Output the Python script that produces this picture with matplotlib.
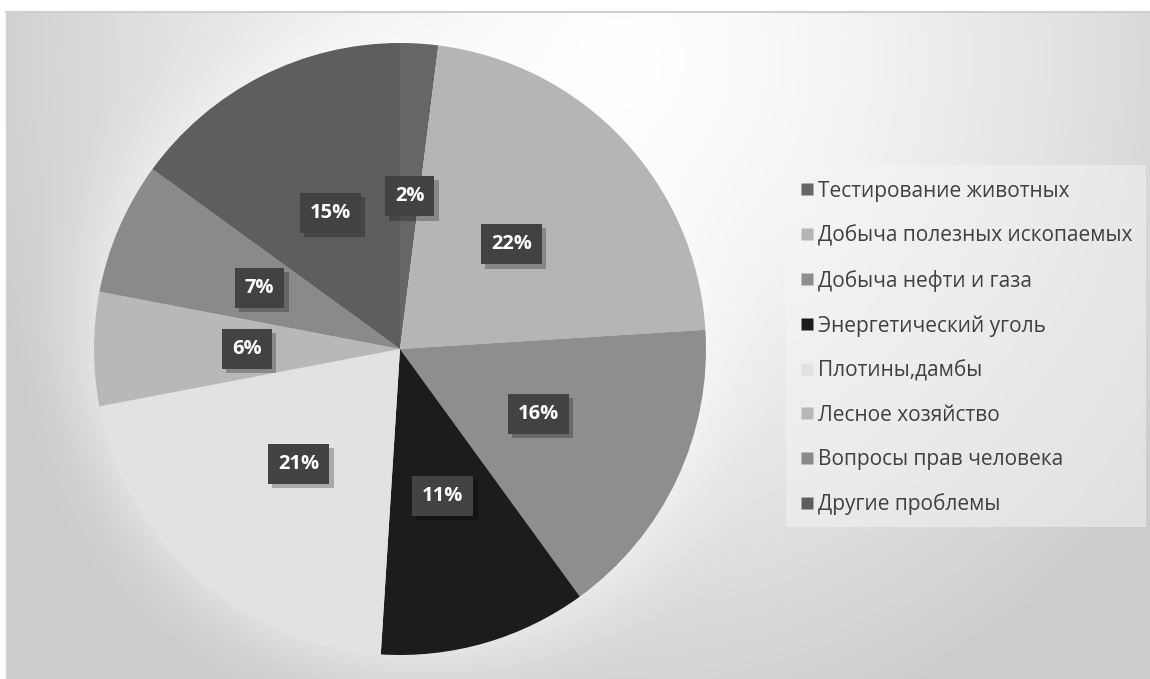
import numpy as np
import matplotlib
matplotlib.use("Agg")
import matplotlib.pyplot as plt
from matplotlib.lines import Line2D
import matplotlib.patheffects as pe

categories = ["Тестирование животных", "Добыча полезных ископаемых", "Добыча нефти и газа",
              "Энергетический уголь", "Плотины,дамбы", "Лесное хозяйство",
              "Вопросы прав человека", "Другие проблемы"]
values = [2, 22, 16, 11, 21, 6, 7, 15]
colors = ["#666666", "#b5b5b5", "#8e8e8e", "#1c1c1c", "#e2e2e2", "#b8b8b8", "#8a8a8a", "#5e5e5e"]

W, H = 1150, 679
fig = plt.figure(figsize=(W / 100, H / 100), dpi=100)
ax = fig.add_axes([0, 0, 1, 1])

# background gradient (row 0 = top)
yy, xx = np.mgrid[0:H, 0:W]
d = np.sqrt(((xx - 620) / 640.0) ** 2 + ((yy - 60) / 680.0) ** 2)
val = 1.0 - 0.19 * np.clip(d, 0, 1.3) ** 1.4
val = np.clip(val, 0.8, 1.0)
# soft halo around pie
dp = np.sqrt((xx - 400) ** 2 + (yy - 349) ** 2)
halo = np.clip(1 - (dp - 306) / 90.0, 0, 1) ** 2
val = val + (1 - val) * 0.35 * halo
img = np.dstack([val, val, val])
img[:12, :, :] = 1.0
img[:, :6, :] = 1.0
ax.imshow(img, extent=(0, W, 0, H), origin="upper", zorder=0, aspect="auto")
ax.plot([6, W], [H - 12, H - 12], color="#cfcfcf", lw=1.5, zorder=1)
ax.plot([6, 6], [0, H - 12], color="#d5d5d5", lw=1.0, zorder=1)

font = ["Open Sans", "DejaVu Sans"]
cx, cy, r = 400, H - 349, 306
wedges, texts, autotexts = ax.pie(values, colors=colors, startangle=90, counterclock=False,
                                  center=(cx, cy), radius=r, frame=True,
                                  wedgeprops=dict(linewidth=0),
                                  autopct="%d%%", pctdistance=0.5,
                                  textprops=dict(color="white", fontsize=14.5, fontweight="bold",
                                                 family=font))
ax.set_xlim(0, W)
ax.set_ylim(0, H)
ax.set_aspect("equal")
ax.axis("off")
for t in autotexts:
    t.set_zorder(5)
    t.set_bbox(dict(boxstyle="square,pad=0.5", facecolor="#424242", edgecolor="none"))
    t.get_bbox_patch().set_path_effects([
        pe.SimplePatchShadow(offset=(3, -3), shadow_rgbFace="black", alpha=0.25),
        pe.Normal()])

# legend panel
ax.add_patch(plt.Rectangle((786, H - 527), 360, 362, facecolor="#f5f5f5", edgecolor="none",
                           alpha=0.5, zorder=2))
handles = [Line2D([0], [0], marker="s", color="none", markerfacecolor=c, markeredgecolor="none",
                  markersize=9) for c in colors]
leg = ax.legend(handles, categories, loc="upper left", bbox_to_anchor=(783 / W, 1 - 162 / H),
                frameon=False, handlelength=0.5, handletextpad=0.3, labelspacing=1.12,
                prop=dict(family=font, size=15), labelcolor="#404040")

fig.savefig("out.png", dpi=100)
